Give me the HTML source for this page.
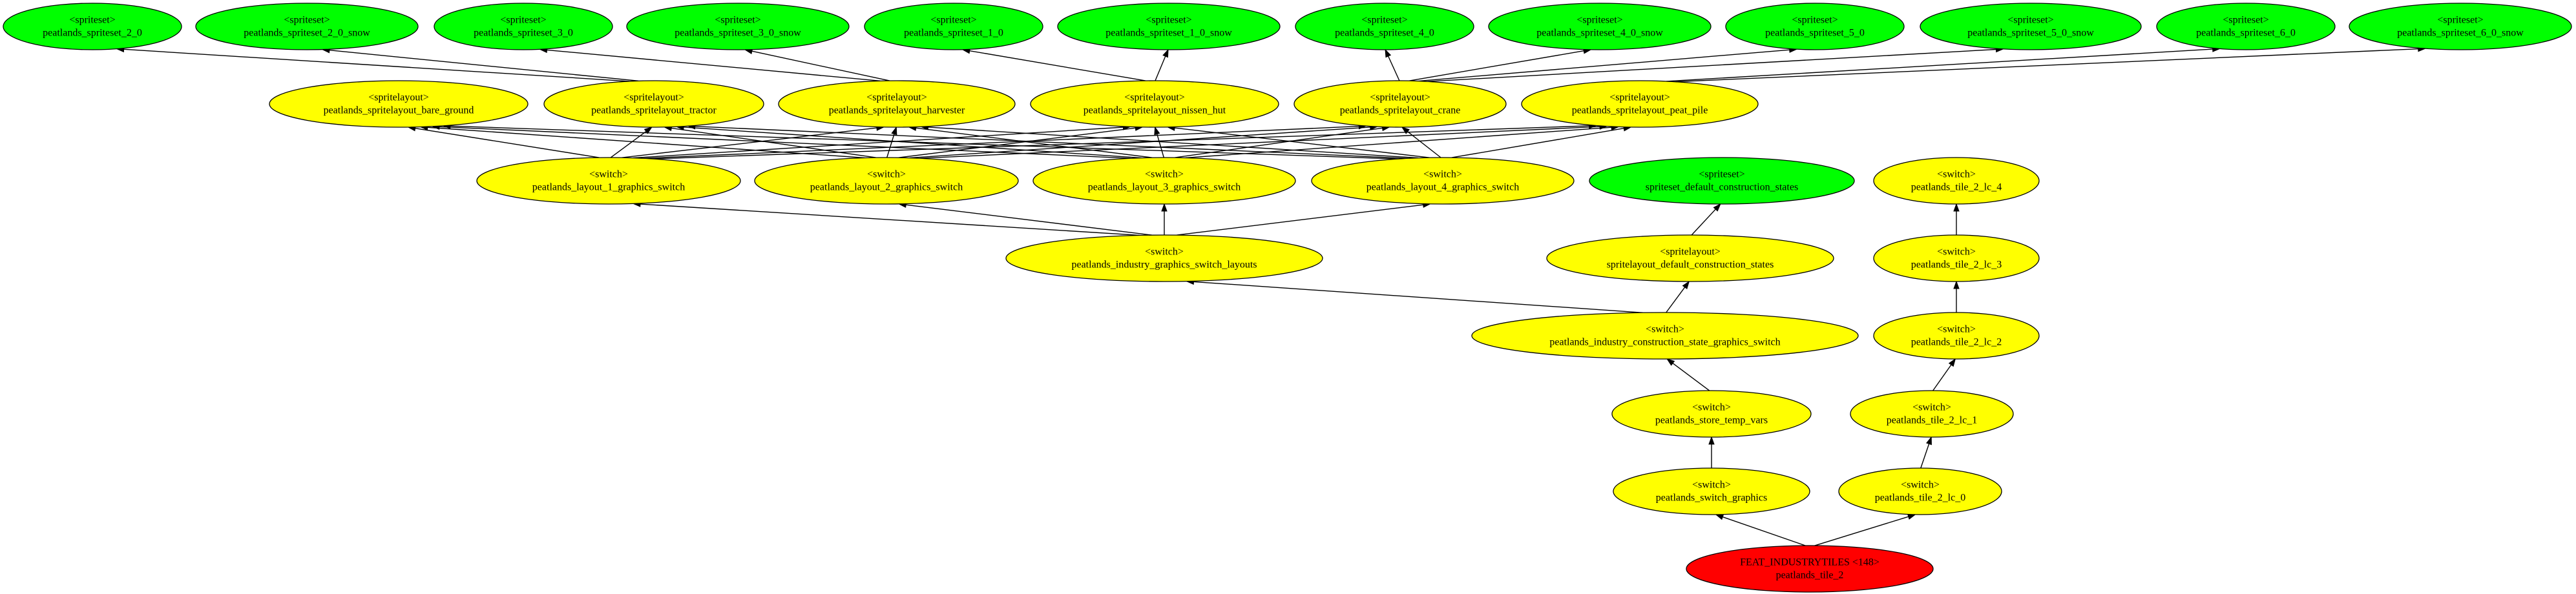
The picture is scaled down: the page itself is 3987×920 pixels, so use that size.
<!DOCTYPE html>
<html><head><meta charset="utf-8"><style>
html,body{margin:0;padding:0;background:#fff;}
svg{display:block;}
text{font-family:"Liberation Serif",serif;font-size:16px;fill:#000;text-anchor:middle;dominant-baseline:central;}
ellipse{stroke:#000;stroke-width:1.3;}
</style></head><body>
<svg id="g" width="3987" height="920" viewBox="0 0 3987 920" xmlns="http://www.w3.org/2000/svg">
<g id="edges" stroke="#000" stroke-width="1.4" fill="none"></g>
<g id="heads" fill="#000" stroke="#000"></g>
<g id="nodes">
<!-- row1 -->
<ellipse cx="143" cy="41" rx="138" ry="36" fill="#00ff00"/><text x="143" y="31">&lt;spriteset&gt;</text><text x="143" y="51">peatlands_spriteset_2_0</text>
<ellipse cx="475" cy="41" rx="172" ry="36" fill="#00ff00"/><text x="475" y="31">&lt;spriteset&gt;</text><text x="475" y="51">peatlands_spriteset_2_0_snow</text>
<ellipse cx="810" cy="41" rx="138" ry="36" fill="#00ff00"/><text x="810" y="31">&lt;spriteset&gt;</text><text x="810" y="51">peatlands_spriteset_3_0</text>
<ellipse cx="1142" cy="41" rx="172" ry="36" fill="#00ff00"/><text x="1142" y="31">&lt;spriteset&gt;</text><text x="1142" y="51">peatlands_spriteset_3_0_snow</text>
<ellipse cx="1476" cy="41" rx="138" ry="36" fill="#00ff00"/><text x="1476" y="31">&lt;spriteset&gt;</text><text x="1476" y="51">peatlands_spriteset_1_0</text>
<ellipse cx="1809" cy="41" rx="172" ry="36" fill="#00ff00"/><text x="1809" y="31">&lt;spriteset&gt;</text><text x="1809" y="51">peatlands_spriteset_1_0_snow</text>
<ellipse cx="2143" cy="41" rx="138" ry="36" fill="#00ff00"/><text x="2143" y="31">&lt;spriteset&gt;</text><text x="2143" y="51">peatlands_spriteset_4_0</text>
<ellipse cx="2476" cy="41" rx="172" ry="36" fill="#00ff00"/><text x="2476" y="31">&lt;spriteset&gt;</text><text x="2476" y="51">peatlands_spriteset_4_0_snow</text>
<ellipse cx="2809" cy="41" rx="138" ry="36" fill="#00ff00"/><text x="2809" y="31">&lt;spriteset&gt;</text><text x="2809" y="51">peatlands_spriteset_5_0</text>
<ellipse cx="3143" cy="41" rx="171" ry="36" fill="#00ff00"/><text x="3143" y="31">&lt;spriteset&gt;</text><text x="3143" y="51">peatlands_spriteset_5_0_snow</text>
<ellipse cx="3476" cy="41" rx="138" ry="36" fill="#00ff00"/><text x="3476" y="31">&lt;spriteset&gt;</text><text x="3476" y="51">peatlands_spriteset_6_0</text>
<ellipse cx="3808" cy="41" rx="172" ry="36" fill="#00ff00"/><text x="3808" y="31">&lt;spriteset&gt;</text><text x="3808" y="51">peatlands_spriteset_6_0_snow</text>
<!-- row2 -->
<ellipse cx="617" cy="161" rx="200" ry="36" fill="#ffff00"/><text x="617" y="151">&lt;spritelayout&gt;</text><text x="617" y="171">peatlands_spritelayout_bare_ground</text>
<ellipse cx="1012" cy="161" rx="170" ry="36" fill="#ffff00"/><text x="1012" y="151">&lt;spritelayout&gt;</text><text x="1012" y="171">peatlands_spritelayout_tractor</text>
<ellipse cx="1388" cy="161" rx="183" ry="36" fill="#ffff00"/><text x="1388" y="151">&lt;spritelayout&gt;</text><text x="1388" y="171">peatlands_spritelayout_harvester</text>
<ellipse cx="1787" cy="161" rx="192" ry="36" fill="#ffff00"/><text x="1787" y="151">&lt;spritelayout&gt;</text><text x="1787" y="171">peatlands_spritelayout_nissen_hut</text>
<ellipse cx="2167" cy="161" rx="164" ry="36" fill="#ffff00"/><text x="2167" y="151">&lt;spritelayout&gt;</text><text x="2167" y="171">peatlands_spritelayout_crane</text>
<ellipse cx="2538" cy="161" rx="183" ry="36" fill="#ffff00"/><text x="2538" y="151">&lt;spritelayout&gt;</text><text x="2538" y="171">peatlands_spritelayout_peat_pile</text>
<!-- row3 -->
<ellipse cx="942" cy="280" rx="204" ry="36" fill="#ffff00"/><text x="942" y="270">&lt;switch&gt;</text><text x="942" y="290">peatlands_layout_1_graphics_switch</text>
<ellipse cx="1372" cy="280" rx="204" ry="36" fill="#ffff00"/><text x="1372" y="270">&lt;switch&gt;</text><text x="1372" y="290">peatlands_layout_2_graphics_switch</text>
<ellipse cx="1802" cy="280" rx="203" ry="36" fill="#ffff00"/><text x="1802" y="270">&lt;switch&gt;</text><text x="1802" y="290">peatlands_layout_3_graphics_switch</text>
<ellipse cx="2233" cy="280" rx="203" ry="36" fill="#ffff00"/><text x="2233" y="270">&lt;switch&gt;</text><text x="2233" y="290">peatlands_layout_4_graphics_switch</text>
<ellipse cx="2665" cy="280" rx="205" ry="36" fill="#00ff00"/><text x="2665" y="270">&lt;spriteset&gt;</text><text x="2665" y="290">spriteset_default_construction_states</text>
<ellipse cx="3028" cy="280" rx="128" ry="36" fill="#ffff00"/><text x="3028" y="270">&lt;switch&gt;</text><text x="3028" y="290">peatlands_tile_2_lc_4</text>
<!-- row4 -->
<ellipse cx="1802" cy="400" rx="245" ry="36" fill="#ffff00"/><text x="1802" y="390">&lt;switch&gt;</text><text x="1802" y="410">peatlands_industry_graphics_switch_layouts</text>
<ellipse cx="2616" cy="400" rx="222" ry="36" fill="#ffff00"/><text x="2616" y="390">&lt;spritelayout&gt;</text><text x="2616" y="410">spritelayout_default_construction_states</text>
<ellipse cx="3028" cy="400" rx="128" ry="36" fill="#ffff00"/><text x="3028" y="390">&lt;switch&gt;</text><text x="3028" y="410">peatlands_tile_2_lc_3</text>
<!-- row5 -->
<ellipse cx="2577" cy="520" rx="299" ry="36" fill="#ffff00"/><text x="2577" y="510">&lt;switch&gt;</text><text x="2577" y="530">peatlands_industry_construction_state_graphics_switch</text>
<ellipse cx="3028" cy="520" rx="128" ry="36" fill="#ffff00"/><text x="3028" y="510">&lt;switch&gt;</text><text x="3028" y="530">peatlands_tile_2_lc_2</text>
<!-- row6 -->
<ellipse cx="2649" cy="641" rx="154" ry="36" fill="#ffff00"/><text x="2649" y="631">&lt;switch&gt;</text><text x="2649" y="651">peatlands_store_temp_vars</text>
<ellipse cx="2990" cy="641" rx="126" ry="36" fill="#ffff00"/><text x="2990" y="631">&lt;switch&gt;</text><text x="2990" y="651">peatlands_tile_2_lc_1</text>
<!-- row7 -->
<ellipse cx="2649" cy="761" rx="152" ry="36" fill="#ffff00"/><text x="2649" y="751">&lt;switch&gt;</text><text x="2649" y="771">peatlands_switch_graphics</text>
<ellipse cx="2972" cy="761" rx="126" ry="36" fill="#ffff00"/><text x="2972" y="751">&lt;switch&gt;</text><text x="2972" y="771">peatlands_tile_2_lc_0</text>
<!-- row8 -->
<ellipse cx="2801" cy="881" rx="191" ry="36" fill="#ff0000"/><text x="2801" y="871">FEAT_INDUSTRYTILES &lt;148&gt;</text><text x="2801" y="891">peatlands_tile_2</text>
</g>
</svg>
<script>
var N={
s20:[143,41,138],s20s:[475,41,172],s30:[810,41,138],s30s:[1142,41,172],s10:[1476,41,138],s10s:[1809,41,172],
s40:[2143,41,138],s40s:[2476,41,172],s50:[2809,41,138],s50s:[3143,41,171],s60:[3476,41,138],s60s:[3808,41,172],
bg:[617,161,200],tr:[1012,161,170],hv:[1388,161,183],nh:[1787,161,192],cr:[2167,161,164],pp:[2538,161,183],
l1:[942,280,204],l2:[1372,280,204],l3:[1802,280,203],l4:[2233,280,203],sdc:[2665,280,205],c4:[3028,280,128],
il:[1802,400,245],sldc:[2616,400,222],c3:[3028,400,128],
cs:[2577,520,299],c2:[3028,520,128],st:[2649,641,154],c1:[2990,641,126],sg:[2649,761,152],c0:[2972,761,126],red:[2801,881,191]};
var E=[["tr","s20"],["tr","s20s"],["hv","s30"],["hv","s30s"],["nh","s10"],["nh","s10s"],["cr","s40"],["cr","s40s"],["cr","s50"],["cr","s50s"],["pp","s60"],["pp","s60s"],
["il","l1"],["il","l2"],["il","l3"],["il","l4"],["cs","il"],["cs","sldc"],["sldc","sdc"],["st","cs"],["sg","st"],["red","sg"],["red","c0"],["c0","c1"],["c1","c2"],["c2","c3"],["c3","c4"]];
["l1","l2","l3","l4"].forEach(function(l){["bg","tr","hv","nh","cr","pp"].forEach(function(s){E.push([l,s]);});});
function bp(n,dx,dy){var t=1/Math.sqrt(Math.pow(dx/n[2],2)+Math.pow(dy/36,2));return [n[0]+dx*t,n[1]+dy*t];}
var eg=document.getElementById("edges"),hg=document.getElementById("heads"),ns="http://www.w3.org/2000/svg";
E.forEach(function(e){var a=N[e[0]],b=N[e[1]];
var dx=b[0]-a[0],dy=b[1]-a[1];
var p=bp(a,dx*0.15,dy),q=bp(b,-dx*0.15,-dy);
var ux=q[0]-p[0],uy=q[1]-p[1],L=Math.sqrt(ux*ux+uy*uy);ux/=L;uy/=L;
var bx=q[0]-ux*11,by=q[1]-uy*11;
var l=document.createElementNS(ns,"line");l.setAttribute("x1",p[0]);l.setAttribute("y1",p[1]);l.setAttribute("x2",bx);l.setAttribute("y2",by);eg.appendChild(l);
var h=document.createElementNS(ns,"polygon");
h.setAttribute("points",q[0]+","+q[1]+" "+(bx-uy*4)+","+(by+ux*4)+" "+(bx+uy*4)+","+(by-ux*4));hg.appendChild(h);});
</script>
</body></html>
